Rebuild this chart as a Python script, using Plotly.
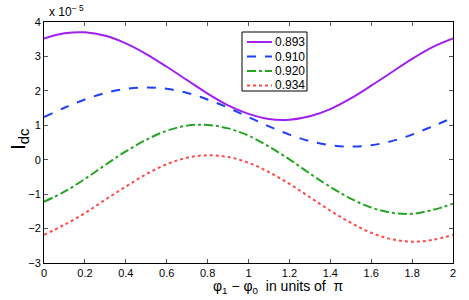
import plotly.graph_objects as go

x_vals = [0.0, 0.1, 0.2, 0.3, 0.4, 0.5, 0.6, 0.7, 0.8, 0.9, 1.0,
          1.1, 1.2, 1.3, 1.4, 1.5, 1.6, 1.7, 1.8, 1.9, 2.0]

# values in units of 1e-5
s_0893 = [3.52, 3.67, 3.70, 3.60, 3.38, 3.07, 2.70, 2.31, 1.92, 1.58, 1.33,
          1.18, 1.16, 1.26, 1.47, 1.78, 2.15, 2.54, 2.93, 3.27, 3.52]
s_0910 = [1.24, 1.51, 1.75, 1.94, 2.06, 2.10, 2.06, 1.94, 1.75, 1.51, 1.24,
          0.97, 0.73, 0.54, 0.42, 0.38, 0.42, 0.54, 0.73, 0.97, 1.22]
s_0920 = [-1.22, -0.93, -0.56, -0.15, 0.24, 0.58, 0.84, 0.99, 1.01, 0.91, 0.70,
          0.38, 0.01, -0.40, -0.79, -1.13, -1.39, -1.54, -1.57, -1.46, -1.28]
s_0934 = [-2.18, -1.89, -1.55, -1.16, -0.78, -0.42, -0.13, 0.06, 0.13, 0.08, -0.09,
          -0.36, -0.70, -1.09, -1.48, -1.83, -2.12, -2.31, -2.38, -2.33, -2.18]

labels = ["0.893", "0.910", "0.920", "0.934"]
series = [s_0893, s_0910, s_0920, s_0934]
colors = ["#A020F0", "#1F3FFF", "#22A622", "#FF4A4A"]
dashes = ["solid", "dash", "dashdot", "dot"]

x_ticks = [0, 0.2, 0.4, 0.6, 0.8, 1, 1.2, 1.4, 1.6, 1.8, 2]
x_ticklabels = ["0", "0.2", "0.4", "0.6", "0.8", "1", "1.2", "1.4", "1.6", "1.8", "2"]
y_ticks = [-3, -2, -1, 0, 1, 2, 3, 4]
y_ticklabels = ["\u22123", "\u22122", "\u22121", "0", "1", "2", "3", "4"]

W, H = 469, 300
ML, MR, MT, MB = 44, 16, 22, 37
PW, PH = W - ML - MR, H - MT - MB


def px(xp):
    return (xp - ML) / PW


def py(yp):
    return (H - MB - yp) / PH


fig = go.Figure()
for lab, ys, c, d in zip(labels, series, colors, dashes):
    fig.add_trace(go.Scatter(x=x_vals, y=ys, name=lab, mode="lines",
                             line=dict(color=c, width=2, dash=d, shape="spline"),
                             showlegend=False))

# manual legend (box, line samples, labels)
shapes = [dict(type="rect", xref="paper", yref="paper",
               x0=px(242), x1=px(307), y0=py(91), y1=py(32),
               line=dict(color="black", width=1), fillcolor="white", layer="above")]
annotations = []
item_y = [42, 56.5, 71, 85.5]
for lab, c, d, yy in zip(labels, colors, dashes, item_y):
    shapes.append(dict(type="line", xref="paper", yref="paper",
                       x0=px(247), x1=px(272), y0=py(yy), y1=py(yy),
                       line=dict(color=c, width=2, dash=d), layer="above"))
    annotations.append(dict(text=lab, xref="paper", yref="paper",
                            x=px(273), y=py(yy), xanchor="left", yanchor="middle",
                            showarrow=False, font=dict(size=12)))

annotations.append(dict(text="x 10<sup>\u2212 5</sup>", xref="paper", yref="paper",
                        x=px(47), y=py(21), xanchor="left", yanchor="bottom",
                        showarrow=False, font=dict(size=12)))
# axis titles
annotations.append(dict(text="\u03c6<sub>1</sub> \u2212 \u03c6<sub>0</sub>  in units of  \u03c0",
                        xref="paper", yref="paper", x=px(278), y=py(287),
                        xanchor="center", yanchor="middle", showarrow=False,
                        font=dict(size=14)))
annotations.append(dict(text="I<sub>dc</sub>", xref="paper", yref="paper",
                        x=px(19), y=py(140), xanchor="center", yanchor="middle",
                        textangle=-90, showarrow=False, font=dict(size=21)))

font_family = "Liberation Sans, Arial, sans-serif"
fig.update_layout(
    width=W, height=H,
    margin=dict(l=ML, r=MR, t=MT, b=MB, autoexpand=False),
    paper_bgcolor="white", plot_bgcolor="white",
    font=dict(family=font_family, size=11, color="black"),
    showlegend=False,
    xaxis=dict(range=[0, 2], tickvals=x_ticks, ticktext=x_ticklabels,
               ticks="inside", ticklen=4, tickcolor="#555", showline=True,
               linecolor="black", linewidth=1, mirror="ticks", showgrid=False,
               zeroline=False, automargin=False),
    yaxis=dict(range=[-3, 4], tickvals=y_ticks, ticktext=y_ticklabels,
               ticks="inside", ticklen=4, tickcolor="#555", showline=True,
               linecolor="black", linewidth=1, mirror="ticks", showgrid=False,
               zeroline=False, automargin=False),
    shapes=shapes,
    annotations=annotations,
)

fig.write_html("out.html", config={"displayModeBar": False},
               post_script="document.body.style.margin='0';document.body.style.padding='0';")
